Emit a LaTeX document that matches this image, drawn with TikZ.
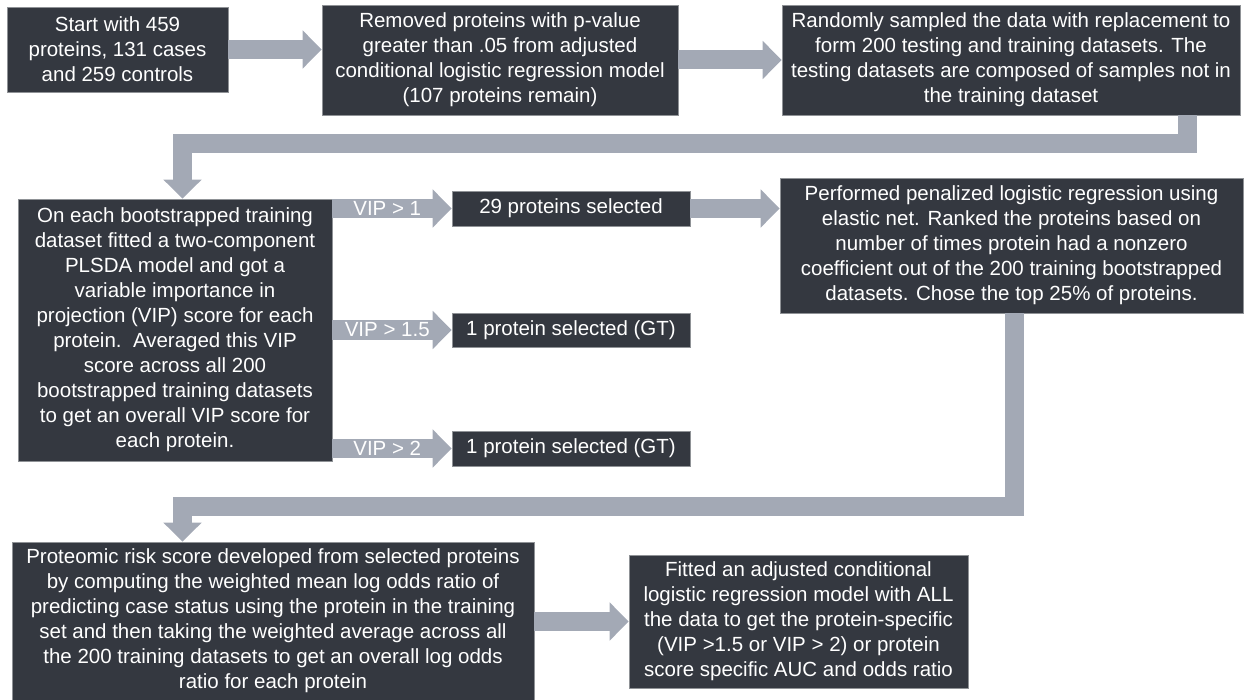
\documentclass[tikz,border=0pt]{standalone}
\usepackage{fontspec}
\setmainfont{Liberation Sans}
\usepackage{xcolor}
\usetikzlibrary{arrows.meta}

\definecolor{boxgray}{RGB}{52,56,64}
\definecolor{arrowgray}{RGB}{163,169,181}

\begin{document}
\begin{tikzpicture}[x=1pt,y=-1pt,
  stepbox/.style={fill=boxgray, draw=boxgray!55!white, line width=0.6pt,
    text=white, align=center, inner sep=0pt,
    font=\fontsize{20.5}{25}\selectfont},
  flow/.style={draw=arrowgray, line width=19pt, line join=miter,
    -{Triangle[width=37pt,length=19pt]}},
  vip/.style={text=white, font=\fontsize{20.5}{25}\selectfont}]

  % Fix the page to the size of the figure
  \useasboundingbox (0,0) rectangle (1244,700);

  % Top row of steps
  \node[stepbox, minimum width=221pt, minimum height=85pt] (start) at (117.5,49.5)
    {Start with 459\\proteins, 131 cases\\and 259 controls};
  \node[stepbox, minimum width=356pt, minimum height=110pt] (removed) at (500,60)
    {Removed proteins with p-value\\greater than .05 from adjusted\\conditional logistic regression model\\(107 proteins remain)};
  \node[stepbox, minimum width=458pt, minimum height=110pt] (sampled) at (1011,60)
    {Randomly sampled the data with replacement to\\form 200 testing and training datasets. The\\testing datasets are composed of samples not in\\the training dataset};

  % Middle row: PLSDA and the VIP cut-offs
  \node[stepbox, minimum width=314pt, minimum height=262pt] (plsda) at (175,330)
    {On each bootstrapped training\\dataset fitted a two-component\\PLSDA model and got a\\variable importance in\\projection (VIP) score for each\\protein.\ \ Averaged this VIP\\score across all 200\\bootstrapped training datasets\\to get an overall VIP score for\\each protein.};
  \node[stepbox, minimum width=238pt, minimum height=35pt] (sel1) at (571,208.5)
    {29 proteins selected};
  \node[stepbox, minimum width=238pt, minimum height=34pt] (sel2) at (571,330)
    {1 protein selected (GT)};
  \node[stepbox, minimum width=238pt, minimum height=35pt] (sel3) at (571,448.5)
    {1 protein selected (GT)};
  \node[stepbox, minimum width=463pt, minimum height=135pt] (enet) at (1011.5,245.5)
    {Performed penalized logistic regression using\\elastic net. Ranked the proteins based on\\number of times protein had a nonzero\\coefficient out of the 200 training bootstrapped\\datasets. Chose the top 25\% of proteins.};

  % Bottom row
  \node[stepbox, minimum width=522pt, minimum height=158pt] (score) at (273,621)
    {Proteomic risk score developed from selected proteins\\by computing the weighted mean log odds ratio of\\predicting case status using the protein in the training\\set and then taking the weighted average across all\\the 200 training datasets to get an overall log odds\\ratio for each protein};
  \node[stepbox, minimum width=339pt, minimum height=133pt] (fitted) at (798.5,621.5)
    {Fitted an adjusted conditional\\logistic regression model with ALL\\the data to get the protein-specific\\(VIP >1.5 or VIP > 2) or protein\\score specific AUC and odds ratio};

  % Bends of the two wrap-around arrows
  \coordinate (bendA) at (1187,144);
  \coordinate (bendB) at (182.5,144);
  \coordinate (bendC) at (1014.5,506);
  \coordinate (bendD) at (182.5,506);

  % Straight arrows
  \draw[flow] (start.east) -- (start.east -| removed.west);
  \draw[flow] (removed.east) -- (sampled.west);
  \draw[flow] (sel1.east) -- (sel1.east -| enet.west);
  \draw[flow] (score.east |- fitted.west) -- (fitted.west);

  % VIP cut-off arrows
  \draw[flow] (plsda.east |- sel1.west) -- node[vip, pos=0.46] {VIP > 1} (sel1.west);
  \draw[flow] (plsda.east |- sel2.west) -- node[vip, pos=0.46] {VIP > 1.5} (sel2.west);
  \draw[flow] (plsda.east |- sel3.west) -- node[vip, pos=0.46] {VIP > 2} (sel3.west);

  % Wrap-around arrows to the next row
  \draw[flow] (sampled.south -| bendA) -- (bendA) -- (bendB) -- (plsda.north -| bendB);
  \draw[flow] (enet.south -| bendC) -- (bendC) -- (bendD) -- (score.north -| bendD);
\end{tikzpicture}
\end{document}
